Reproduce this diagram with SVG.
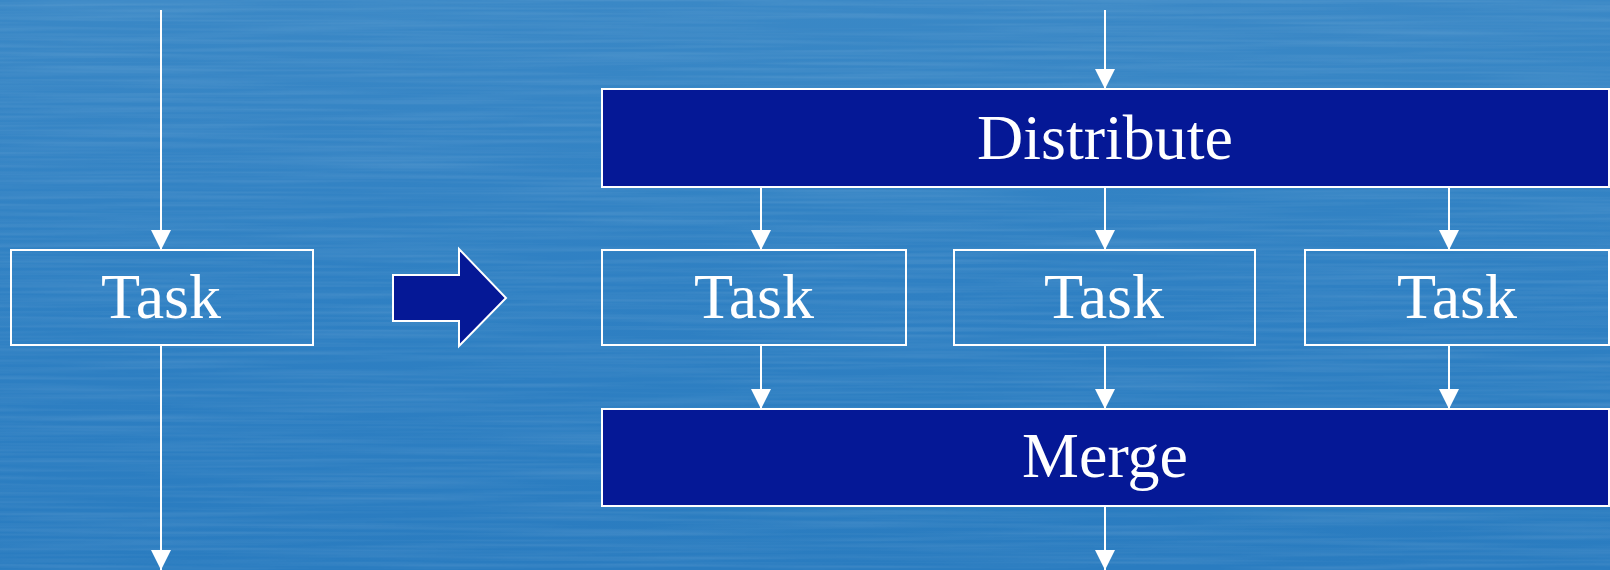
<svg xmlns="http://www.w3.org/2000/svg" width="1610" height="570" viewBox="0 0 1610 570">
  <defs>
    <linearGradient id="bg" x1="0" y1="0" x2="0" y2="1">
      <stop offset="0" stop-color="#3a88c6"/>
      <stop offset="0.5" stop-color="#2f80c3"/>
      <stop offset="1" stop-color="#2a7cc0"/>
    </linearGradient>
    <filter id="streaks" x="0" y="0" width="100%" height="100%">
      <feTurbulence type="fractalNoise" baseFrequency="0.004 0.25" numOctaves="2" seed="3" result="n"/>
      <feColorMatrix in="n" type="matrix" values="0 0 0 0 1  0 0 0 0 1  0 0 0 0 1  0 0 0 0.35 -0.12"/>
    </filter>
    <marker id="ah" viewBox="0 0 20 20" refX="20" refY="10" markerWidth="20" markerHeight="20" markerUnits="userSpaceOnUse" orient="auto">
      <path d="M0,0 L20,10 L0,20 Z" fill="#ffffff"/>
    </marker>
    <style>
      .task { fill: none; stroke: #ffffff; stroke-width: 2; }
      .bar { fill: #051896; stroke: #ffffff; stroke-width: 2; }
      .lbl { fill: #ffffff; font-family: "Liberation Serif", "Times New Roman", serif; font-size: 64px; text-anchor: middle; }
      .conn { stroke: #ffffff; stroke-width: 2; fill: none; marker-end: url(#ah); }
    </style>
  </defs>

  <rect x="0" y="0" width="1610" height="570" fill="url(#bg)"/>
  <rect x="0" y="0" width="1610" height="570" filter="url(#streaks)" opacity="0.5"/>

  <g id="connectors">
    <line class="conn" x1="161" y1="10" x2="161" y2="250"/>
    <line class="conn" x1="161" y1="346" x2="161" y2="570"/>
    <line class="conn" x1="1105" y1="10" x2="1105" y2="89"/>
    <line class="conn" x1="761" y1="188" x2="761" y2="250"/>
    <line class="conn" x1="1105" y1="188" x2="1105" y2="250"/>
    <line class="conn" x1="1449" y1="188" x2="1449" y2="250"/>
    <line class="conn" x1="761" y1="346" x2="761" y2="409"/>
    <line class="conn" x1="1105" y1="346" x2="1105" y2="409"/>
    <line class="conn" x1="1449" y1="346" x2="1449" y2="409"/>
    <line class="conn" x1="1105" y1="506" x2="1105" y2="570"/>
  </g>

  <g id="task-single">
    <rect class="task" x="11" y="250" width="302" height="95"/>
    <text class="lbl" x="161" y="318">Task</text>
  </g>

  <g id="transform-arrow">
    <path d="M393,275 L459,275 L459,249 L506,298 L459,346 L459,321 L393,321 Z" fill="#051896" stroke="#ffffff" stroke-width="2"/>
  </g>

  <g id="distribute">
    <rect class="bar" x="602" y="89" width="1007" height="98"/>
    <text class="lbl" x="1105" y="159">Distribute</text>
  </g>

  <g id="task-1">
    <rect class="task" x="602" y="250" width="304" height="95"/>
    <text class="lbl" x="754" y="318">Task</text>
  </g>

  <g id="task-2">
    <rect class="task" x="954" y="250" width="301" height="95"/>
    <text class="lbl" x="1104" y="318">Task</text>
  </g>

  <g id="task-3">
    <rect class="task" x="1305" y="250" width="304" height="95"/>
    <text class="lbl" x="1457" y="318">Task</text>
  </g>

  <g id="merge">
    <rect class="bar" x="602" y="409" width="1007" height="97"/>
    <text class="lbl" x="1105" y="477">Merge</text>
  </g>
</svg>
